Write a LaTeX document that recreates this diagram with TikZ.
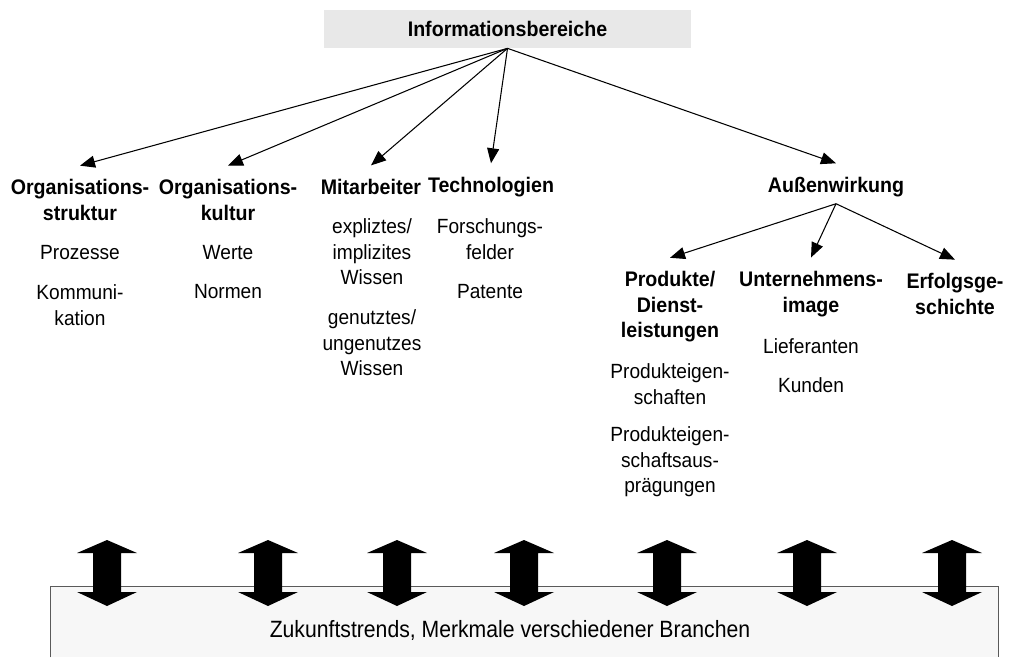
\documentclass[tikz,border=0pt]{standalone}
\usepackage{fontspec}
\setmainfont{Liberation Sans}[FakeStretch=0.93]
\newfontfamily\trendfont{Liberation Sans}[FakeStretch=0.9]
\usetikzlibrary{arrows.meta}
\definecolor{infogray}{HTML}{E8E8E8}
\definecolor{trendgray}{HTML}{F7F7F7}
\definecolor{rimgray}{HTML}{5A5A5A}
\tikzset{
  head/.style={font=\fontsize{12}{14.5}\selectfont\bfseries,align=center,inner xsep=1pt,inner ysep=0.27cm},
  item/.style={font=\fontsize{11.7}{14.5}\selectfont,align=center,inner sep=1pt},
  link/.style={line width=0.6pt,-{Triangle[length=0.3cm,width=0.24cm]}}
}
\begin{document}
\begin{tikzpicture}[x=0.02cm,y=-0.02cm,line join=miter]
  \useasboundingbox (0,0) rectangle (1011,657);
  \node[fill=infogray,minimum width=7.34cm,minimum height=0.76cm,inner sep=0pt,
        font=\fontsize{12}{14}\selectfont\bfseries] (info) at (507.5,29) {Informationsbereiche};

  \node[head] (ostruktur) at (80,200) {Organisations-\\struktur};
  \node[item] (prozesse) at (80,253) {Prozesse};
  \node[item] (kommunikation) at (80,305) {Kommuni-\\kation};

  \node[head] (okultur) at (228,200) {Organisations-\\kultur};
  \node[item] (werte) at (228,253) {Werte};
  \node[item] (normen) at (228,292) {Normen};

  \node[head] (mitarbeiter) at (371,187) {Mitarbeiter};
  \node[item] (explizit) at (372,252) {expliztes/\\implizites\\Wissen};
  \node[item] (genutzt) at (372,343) {genutztes/\\ungenutzes\\Wissen};

  \node[head] (technologien) at (491,187) {Technologien};
  \node[item] (forschung) at (490,239) {Forschungs-\\felder};
  \node[item] (patente) at (490,292) {Patente};

  \node[head] (aussen) at (836,187) {Außenwirkung};
  \node[head] (produkte) at (670,307) {Produkte/\\Dienst-\\leistungen};
  \node[item] (eigenschaften) at (670,384) {Produkteigen-\\schaften};
  \node[item] (auspraegungen) at (670,462) {Produkteigen-\\schaftsaus-\\prägungen};
  \node[head] (image) at (811,294) {Unternehmens-\\image};
  \node[item] (lieferanten) at (811,346) {Lieferanten};
  \node[item] (kunden) at (811,385) {Kunden};
  \node[head] (erfolg) at (955,294) {Erfolgsge-\\schichte};

  \draw[link] (info.south) -- (ostruktur.north);
  \draw[link] (info.south) -- (okultur.north);
  \draw[link] (info.south) -- (mitarbeiter.north);
  \draw[link] (info.south) -- (technologien.north);
  \draw[link] (info.south) -- (aussen.north);
  \draw[link] ([yshift=0.14cm]aussen.south) -- (produkte.north);
  \draw[link] ([yshift=0.14cm]aussen.south) -- (image.north);
  \draw[link] ([yshift=0.14cm]aussen.south) -- (erfolg.north);

  \node[fill=trendgray,minimum width=18.94cm,minimum height=1.4cm,inner sep=0pt] (trendbox) at (524.5,622) {};
  \draw[rimgray,line width=0.6pt] (trendbox.south west) |- (trendbox.north east) -- (trendbox.south east);
  \foreach \x in {107,268,397,524,667,807,952}
    \fill (\x,540) -- (\x+30,553) -- (\x+14,553) -- (\x+14,592) -- (\x+30,592) -- (\x,606)
      -- (\x-30,592) -- (\x-14,592) -- (\x-14,553) -- (\x-30,553) -- cycle;
  \node[font=\fontsize{13.4}{16}\selectfont\trendfont] (trends) at (510,630) {Zukunftstrends, Merkmale verschiedener Branchen};
\end{tikzpicture}
\end{document}
